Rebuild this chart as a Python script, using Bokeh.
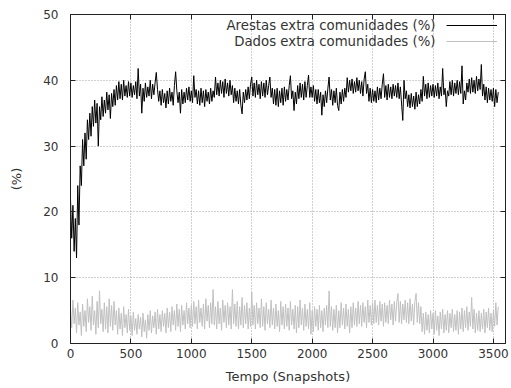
from bokeh.plotting import figure
from bokeh.models import Range1d, LinearAxis, Legend, LegendItem, Label, FixedTicker
from bokeh.embed import file_html
from bokeh.resources import INLINE

# snapshots sampled every 10
snapshots = list(range(0, 3541, 10))

arestas = [
    22, 16, 21, 14, 19, 13, 24, 18, 27, 24,
    31, 27, 32, 28, 34, 31, 35, 31.5, 36, 33,
    37, 33.5, 36.5, 30, 36, 34, 37.5, 34.5, 37, 35,
    38.2, 35.5, 37.8, 34.2, 38, 36, 38.6, 36.2, 39.2, 37,
    39.8, 37.2, 39.4, 37, 40, 37.6, 39.2, 37.4, 39.8, 37.6,
    39.6, 37.4, 39.2, 37.8, 39.8, 37.2, 41.8, 37.6, 39.4, 35,
    38.8, 36.8, 39.6, 37.4, 39, 37.6, 40, 37.2, 39.4, 37.8,
    39.6, 41.2, 38.6, 36.8, 38.4, 36.2, 38.6, 36.6, 38, 35.8,
    38.4, 36.4, 38.8, 36.8, 38.2, 36.2, 39.2, 41.3, 38.4, 36.6,
    38.2, 35, 38.6, 36.4, 38.2, 36.6, 38.8, 37, 39, 36.8,
    38.4, 36.6, 40.7, 37.4, 38.6, 36.4, 38.4, 36.2, 38.8, 36.6,
    38.4, 36, 38.6, 36.8, 38.2, 36.4, 38.8, 36.8, 38.4, 37.4,
    40.5, 37.8, 39.6, 37.6, 40, 38, 39.8, 37.4, 40.2, 38,
    39.6, 37.6, 40, 37.8, 39.2, 36.6, 38.8, 36.8, 38.4, 36.4,
    38.6, 36.2, 34.9, 38.2, 36.6, 38.6, 37, 39, 37.2, 39.4,
    40.5, 37.6, 39.6, 37.4, 40, 37.8, 39.4, 37.2, 39.8, 37.6,
    39.6, 37.4, 40, 37.8, 39.2, 40.5, 37.4, 38.8, 36.4, 38.6,
    36.2, 38.8, 36, 38.4, 36.6, 38.8, 36.2, 39, 36.8, 38.6,
    37, 39.2, 40.7, 37.2, 38.4, 35.4, 38.2, 36.4, 39.2, 37.2,
    39.6, 37.4, 39.4, 37, 39.8, 37.4, 39.2, 40.8, 37.4, 39,
    37.4, 39.2, 36.8, 38.6, 36.4, 38.6, 36.6, 38.2, 34.7, 37.8,
    36, 38.4, 36.6, 38.8, 40.5, 37, 38.6, 36.2, 38.4, 36.6,
    38.8, 36.2, 35.4, 38.2, 36.4, 38.6, 36.8, 38.8, 37.4, 40.4,
    38.2, 40, 38.4, 40.2, 38, 39.8, 38.2, 40.4, 38.4, 40,
    38, 39.8, 37.6, 40.2, 41.3, 38, 39.4, 36.8, 38.8, 36.6,
    38.6, 36.8, 38.4, 36.6, 39, 37, 38.8, 37.2, 39.4, 41,
    37.4, 39.2, 37, 39.4, 37.4, 39, 37.2, 39.4, 37.6, 39.2,
    37.4, 39.6, 37.2, 39, 36.4, 33.9, 40, 37.2, 38.4, 36,
    37.8, 35.8, 38, 36, 37.6, 35.6, 38.2, 36, 37.8, 36.4,
    38.6, 36.8, 40.6, 37.6, 39.4, 37.2, 39.6, 37.4, 39.2, 37.6,
    39.4, 37.4, 39.2, 37.6, 39.6, 37.2, 39, 37.6, 41.8, 37.8,
    38.8, 36, 38.4, 37.6, 39.8, 37.8, 40, 37.6, 39.6, 38,
    40, 37.8, 39.8, 38, 42.2, 36.4, 38.4, 37, 39.6, 38.2,
    40.2, 38, 40.4, 38.2, 40, 38, 40.6, 38.4, 40.2, 38.6,
    42.4, 37.6, 39.4, 37, 39, 36.6, 38.8, 37, 38.6, 36.8,
    38.8, 36, 38.6, 36.6, 38.2,
]

dados = [
    5.2, 2.4, 6.6, 3, 5.4, 1.6, 6.2, 2.8, 4.8, 1.2,
    6, 2.6, 5, 1.8, 6.8, 3.2, 5.6, 2, 7.2, 2.8,
    5, 1.4, 6.4, 2.4, 8, 3, 5.2, 1.8, 6.2, 2.2,
    5.6, 1.6, 6.8, 2.6, 5.8, 2, 6.4, 2.8, 5, 1.4,
    5.4, 2.2, 4.6, 1.2, 5.6, 2.4, 4.4, 1.6, 5.2, 2,
    4.2, 1.2, 4.8, 2, 3.8, 1.4, 4.4, 2.2, 4, 1,
    4.6, 1.8, 3.6, 0.8, 4.4, 2, 5, 1.6, 4.2, 2.4,
    4.8, 1.4, 5.2, 2.2, 4.4, 1.8, 5, 2.6, 4.6, 1.6,
    5.4, 2.4, 4.8, 1.8, 5.6, 2.8, 5, 2, 6, 2.6,
    5.2, 1.8, 5.8, 2.8, 5, 2.2, 6.2, 3, 5.4, 2.4,
    5.8, 2.6, 6.4, 3, 5.6, 2.2, 6.6, 3.2, 5.4, 2.6,
    6, 2.2, 6.8, 3.4, 5.8, 2.4, 6.2, 3, 8.2, 2.8,
    5.6, 2.2, 6.4, 3, 5.4, 2, 6.6, 3.2, 5.8, 2.4,
    6.2, 2.8, 5.6, 2.2, 8.2, 3, 6, 2.6, 6.4, 2.2,
    5.6, 2.8, 7, 2.4, 5.8, 3, 6.2, 2.2, 5.4, 2.6,
    7.8, 2.8, 5.8, 2.2, 6.2, 3, 5.4, 2.4, 6.8, 2.6,
    5.6, 2, 6.2, 3, 5.2, 2.4, 6.6, 2.8, 5.4, 2.2,
    6, 2.6, 5, 1.8, 6.4, 2.8, 5.6, 2.2, 6, 2.6,
    5.4, 2, 6.4, 2.8, 5.2, 2.2, 5.8, 1.6, 5.6, 2.4,
    6.6, 2.8, 5.4, 2, 6, 2.6, 5.2, 2.2, 6.2, 1.4,
    5, 1.8, 5.6, 2.6, 5.2, 2, 5.8, 2.4, 5, 1.8,
    5.4, 2.8, 5.8, 2.4, 8, 2.6, 5.6, 2, 5.2, 2.4,
    5.8, 1.6, 5, 2.4, 6.2, 2.8, 5.4, 2.2, 6, 2.6,
    5.2, 1.6, 5.6, 2.4, 6.2, 2.8, 5.4, 2.6, 6.4, 3,
    5.8, 2.6, 6.2, 3.2, 5.6, 2.4, 6.6, 3.2, 5.8, 2.8,
    6.2, 3, 6.6, 3.2, 5.8, 2.8, 6.4, 3.4, 6, 2.6,
    6.2, 3.2, 5.8, 3, 6.6, 3.6, 6, 2.8, 6.4, 3.4,
    6.2, 7.6, 3.2, 6.4, 3, 6, 3.6, 6.6, 3.2, 6.2,
    3, 6.8, 3.4, 6, 2.8, 6.4, 7.6, 3.2, 6.2, 3,
    5.6, 1.8, 4.6, 1.4, 4.8, 2, 4.4, 1.6, 5, 2.2,
    4.6, 1.4, 5, 2, 4.2, 1.2, 4.8, 2.2, 5.2, 1.6,
    4.4, 2, 5, 1.6, 4.6, 2.4, 5.2, 1.8, 4.4, 2,
    5, 1.4, 4.8, 2.2, 5.4, 1.8, 5, 2.4, 5.6, 2,
    4.8, 2.6, 7, 2.2, 5.2, 1.6, 4.6, 2, 5, 1.8,
    4.6, 2.2, 5.2, 1.6, 4.8, 2.4, 5.4, 2, 4.6, 1.8,
    5, 2.6, 6.2, 2.8, 5.6,
]

x_ticks = [0, 500, 1000, 1500, 2000, 2500, 3000, 3500]
y_ticks = [0, 10, 20, 30, 40, 50]
label_arestas = "Arestas extra comunidades (%)"
label_dados = "Dados extra comunidades (%)"

n = min(len(snapshots), len(arestas), len(dados))
snapshots, arestas, dados = snapshots[:n], arestas[:n], dados[:n]

FONT = "DejaVu Sans"
TXT = "#333333"

p = figure(width=511, height=388, output_backend="svg", toolbar_location=None,
           x_range=Range1d(0, 3600), y_range=Range1d(0, 50),
           min_border_left=70, min_border_right=6, min_border_top=14, min_border_bottom=45,
           x_axis_label="Tempo (Snapshots)", y_axis_label="(%)")
p.outline_line_color = "#222222"
p.outline_line_width = 1
p.background_fill_color = "white"
p.border_fill_color = "white"

r1 = p.line(snapshots, arestas, line_color="black", line_width=1)
r2 = p.line(snapshots, dados, line_color="#c0c0c0", line_width=1)

for ax in (p.xaxis[0], p.yaxis[0]):
    ax.major_label_text_font = FONT
    ax.major_label_text_font_size = "12px"
    ax.major_label_text_color = TXT
    ax.axis_label_text_font = FONT
    ax.axis_label_text_font_size = "13px"
    ax.axis_label_text_font_style = "normal"
    ax.axis_label_text_color = TXT
    ax.major_tick_in = 5
    ax.major_tick_out = 0
    ax.minor_tick_line_color = None
    ax.axis_line_color = "#222222"
    ax.major_tick_line_color = "#222222"

p.xaxis[0].ticker = FixedTicker(ticks=x_ticks)
p.yaxis[0].ticker = FixedTicker(ticks=y_ticks)
p.xaxis[0].major_label_standoff = 5
p.xaxis[0].axis_label_standoff = 8
p.yaxis[0].major_label_standoff = 12
p.yaxis[0].axis_label_standoff = 16

# mirrored ticks on top and right (no labels)
top = LinearAxis(ticker=FixedTicker(ticks=x_ticks), major_label_text_color=None,
                 major_tick_in=5, major_tick_out=0, minor_tick_line_color=None,
                 axis_line_color="#222222", major_tick_line_color="#222222")
right = LinearAxis(ticker=FixedTicker(ticks=y_ticks), major_label_text_color=None,
                   major_tick_in=5, major_tick_out=0, minor_tick_line_color=None,
                   axis_line_color="#222222", major_tick_line_color="#222222")
p.add_layout(top, "above")
p.add_layout(right, "right")

p.xgrid.ticker = FixedTicker(ticks=x_ticks)
p.ygrid.ticker = FixedTicker(ticks=y_ticks)
p.grid.grid_line_color = "#a0a0a0"
p.grid.grid_line_dash = "1 2"
p.grid.grid_line_width = 1

legend = Legend(items=[LegendItem(label=" ", renderers=[r1]),
                       LegendItem(label=" ", renderers=[r2])],
                location=(376, 294), orientation="vertical",
                glyph_width=51, glyph_height=16, label_width=0, label_standoff=0,
                label_height=16, label_text_color=None,
                padding=0, margin=0, spacing=0,
                border_line_color=None, background_fill_alpha=0)
p.add_layout(legend)

p.add_layout(Label(x=3021, y=48.3, text=label_arestas, text_align="right",
                   text_baseline="middle", text_font=FONT, text_font_size="13.3px",
                   text_color=TXT))
p.add_layout(Label(x=3021, y=45.9, text=label_dados, text_align="right",
                   text_baseline="middle", text_font=FONT, text_font_size="13.3px",
                   text_color=TXT))

open("out.html", "w").write(file_html(p, INLINE))
